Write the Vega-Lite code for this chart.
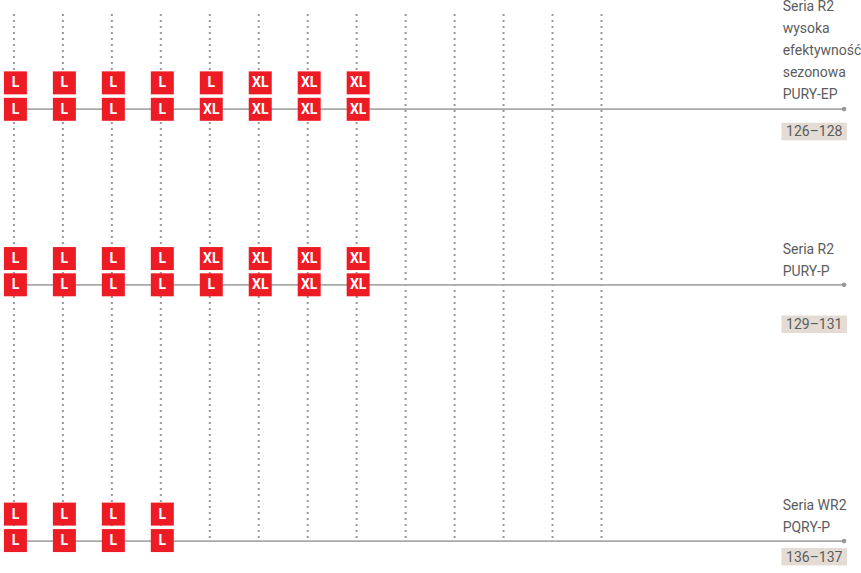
{
  "$schema": "https://vega.github.io/schema/vega-lite/v6.json",
  "width": 861,
  "height": 573,
  "autosize": {"type": "fit", "contains": "padding"},
  "padding": 0,
  "background": "white",
  "config": {"view": {"stroke": null}},
  "datasets": {
    "columns": [{"col":1},{"col":2},{"col":3},{"col":4},{"col":5},{"col":6},{"col":7},{"col":8},{"col":9},{"col":10},{"col":11},{"col":12},{"col":13}],
    "series": [
      {"series": "R2 PURY-EP", "level": 108.3, "range": "126–128", "top": 122, "bottom": 139.5, "textLevel": 135.5},
      {"series": "R2 PURY-P", "level": 284.3, "range": "129–131", "top": 315, "bottom": 332.5, "textLevel": 328.5},
      {"series": "WR2 PQRY-P", "level": 541, "range": "136–137", "top": 548, "bottom": 565.5, "textLevel": 561.5}
    ],
    "labels": [
      {"text": "Seria R2", "level": 10},
      {"text": "wysoka", "level": 32},
      {"text": "efektywność", "level": 54},
      {"text": "sezonowa", "level": 76},
      {"text": "PURY-EP", "level": 98},
      {"text": "Seria R2", "level": 253},
      {"text": "PURY-P", "level": 275},
      {"text": "Seria WR2", "level": 510},
      {"text": "PQRY-P", "level": 532}
    ],
    "tiles": [
      {"col":1,"level":82,"size":"L"},{"col":2,"level":82,"size":"L"},{"col":3,"level":82,"size":"L"},{"col":4,"level":82,"size":"L"},
      {"col":5,"level":82,"size":"L"},{"col":6,"level":82,"size":"XL"},{"col":7,"level":82,"size":"XL"},{"col":8,"level":82,"size":"XL"},
      {"col":1,"level":108.5,"size":"L"},{"col":2,"level":108.5,"size":"L"},{"col":3,"level":108.5,"size":"L"},{"col":4,"level":108.5,"size":"L"},
      {"col":5,"level":108.5,"size":"XL"},{"col":6,"level":108.5,"size":"XL"},{"col":7,"level":108.5,"size":"XL"},{"col":8,"level":108.5,"size":"XL"},
      {"col":1,"level":258,"size":"L"},{"col":2,"level":258,"size":"L"},{"col":3,"level":258,"size":"L"},{"col":4,"level":258,"size":"L"},
      {"col":5,"level":258,"size":"XL"},{"col":6,"level":258,"size":"XL"},{"col":7,"level":258,"size":"XL"},{"col":8,"level":258,"size":"XL"},
      {"col":1,"level":284.3,"size":"L"},{"col":2,"level":284.3,"size":"L"},{"col":3,"level":284.3,"size":"L"},{"col":4,"level":284.3,"size":"L"},
      {"col":5,"level":284.3,"size":"L"},{"col":6,"level":284.3,"size":"XL"},{"col":7,"level":284.3,"size":"XL"},{"col":8,"level":284.3,"size":"XL"},
      {"col":1,"level":514,"size":"L"},{"col":2,"level":514,"size":"L"},{"col":3,"level":514,"size":"L"},{"col":4,"level":514,"size":"L"},
      {"col":1,"level":540.5,"size":"L"},{"col":2,"level":540.5,"size":"L"},{"col":3,"level":540.5,"size":"L"},{"col":4,"level":540.5,"size":"L"}
    ]
  },
  "layer": [
    {
      "data": {"name": "columns"},
      "mark": {"type": "rule", "color": "#999999", "strokeWidth": 2, "strokeDash": [2, 4]},
      "encoding": {
        "x": {"field": "col", "type": "quantitative", "scale": {"domain": [0.7157, 18.198], "nice": false, "zero": false}, "axis": null},
        "y": {"datum": 13, "type": "quantitative", "scale": {"domain": [0, 573], "nice": false, "zero": false, "reverse": true}, "axis": null},
        "y2": {"datum": 541}
      }
    },
    {
      "data": {"name": "series"},
      "mark": {"type": "rule", "color": "#a8a8a8", "strokeWidth": 1.8},
      "encoding": {
        "x": {"datum": 1, "type": "quantitative"},
        "x2": {"datum": 17.954},
        "y": {"field": "level", "type": "quantitative"}
      }
    },
    {
      "data": {"name": "series"},
      "mark": {"type": "point", "filled": true, "color": "#9a9a9a", "size": 22, "opacity": 1},
      "encoding": {
        "x": {"datum": 17.954, "type": "quantitative"},
        "y": {"field": "level", "type": "quantitative"}
      }
    },
    {
      "data": {"name": "tiles"},
      "mark": {"type": "square", "filled": true, "color": "#ED1C24", "size": 529, "opacity": 1, "xOffset": 1.5},
      "encoding": {
        "x": {"field": "col", "type": "quantitative"},
        "y": {"field": "level", "type": "quantitative"}
      }
    },
    {
      "data": {"name": "tiles"},
      "mark": {"type": "text", "color": "white", "font": "Roboto", "fontWeight": "bold", "fontSize": 14, "baseline": "middle", "align": "center", "xOffset": 1.5, "dy": 0.5},
      "encoding": {
        "x": {"field": "col", "type": "quantitative"},
        "y": {"field": "level", "type": "quantitative"},
        "text": {"field": "size"}
      }
    },
    {
      "data": {"name": "labels"},
      "mark": {"type": "text", "color": "#5c5c5c", "font": "Roboto", "fontSize": 14, "baseline": "alphabetic", "align": "left"},
      "encoding": {
        "x": {"datum": 16.7, "type": "quantitative"},
        "y": {"field": "level", "type": "quantitative"},
        "text": {"field": "text"}
      }
    },
    {
      "data": {"name": "series"},
      "mark": {"type": "rect", "color": "#E4DCD4"},
      "encoding": {
        "x": {"datum": 16.675, "type": "quantitative"},
        "x2": {"datum": 18.015},
        "y": {"field": "top", "type": "quantitative"},
        "y2": {"field": "bottom"}
      }
    },
    {
      "data": {"name": "series"},
      "mark": {"type": "text", "color": "#5c5c5c", "font": "Roboto", "fontSize": 14, "baseline": "alphabetic", "align": "center"},
      "encoding": {
        "x": {"datum": 17.345, "type": "quantitative"},
        "y": {"field": "textLevel", "type": "quantitative"},
        "text": {"field": "range"}
      }
    }
  ]
}
